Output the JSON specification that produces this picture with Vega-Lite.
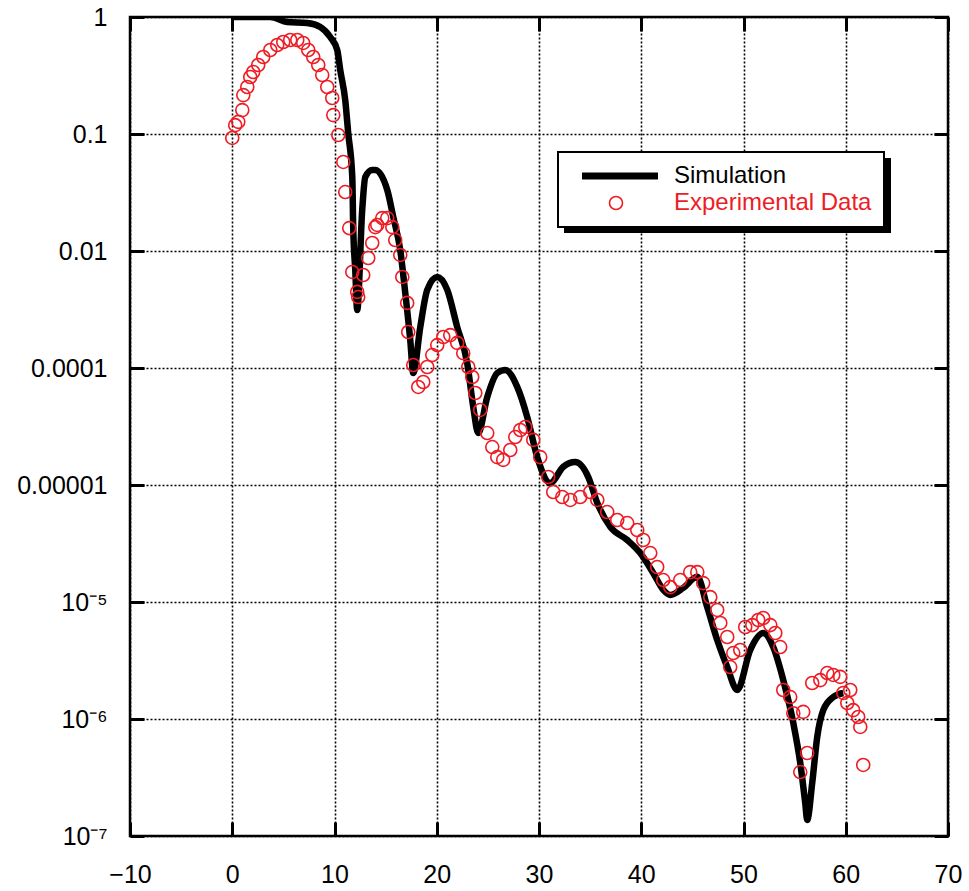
{
  "$schema": "https://vega.github.io/schema/vega-lite/v6.json",
  "width": 818,
  "height": 819,
  "autosize": "none",
  "padding": {"left": 130, "top": 17, "right": 21, "bottom": 55},
  "background": "white",
  "datasets": {
    "sim": [
      {"x": 0, "y": 1}, {"x": 3.72, "y": 1}, {"x": 5.38, "y": 0.906}, {"x": 7.33, "y": 0.889},
      {"x": 8.61, "y": 0.822}, {"x": 9.58, "y": 0.675}, {"x": 10.27, "y": 0.522}, {"x": 10.56, "y": 0.352},
      {"x": 11.05, "y": 0.195}, {"x": 11.34, "y": 0.102}, {"x": 11.74, "y": 0.0429}, {"x": 11.83, "y": 0.016},
      {"x": 12.03, "y": 0.00689}, {"x": 12.22, "y": 0.00313}, {"x": 12.71, "y": 0.0224}, {"x": 13.01, "y": 0.0429},
      {"x": 13.69, "y": 0.0492}, {"x": 13.99, "y": 0.0492}, {"x": 15.16, "y": 0.0332}, {"x": 15.75, "y": 0.0195},
      {"x": 16.43, "y": 0.0102}, {"x": 16.92, "y": 0.00438}, {"x": 17.41, "y": 0.00173}, {"x": 17.7, "y": 0.000906},
      {"x": 18.39, "y": 0.00224}, {"x": 19.07, "y": 0.00465}, {"x": 20.05, "y": 0.006}, {"x": 21.03, "y": 0.00465},
      {"x": 22.0, "y": 0.00224}, {"x": 22.98, "y": 0.0011}, {"x": 23.57, "y": 0.000465}, {"x": 24.06, "y": 0.000278},
      {"x": 24.94, "y": 0.000565}, {"x": 25.92, "y": 0.000906}, {"x": 26.7, "y": 0.000962}, {"x": 27.87, "y": 0.000689},
      {"x": 28.85, "y": 0.000381}, {"x": 29.83, "y": 0.000173}, {"x": 31.1, "y": 0.000104}, {"x": 32.37, "y": 0.000143},
      {"x": 33.55, "y": 0.000157}, {"x": 34.82, "y": 0.000117}, {"x": 35.7, "y": 0.0000702}, {"x": 36.97, "y": 0.0000438},
      {"x": 38.63, "y": 0.0000339}, {"x": 39.9, "y": 0.0000262}, {"x": 41.17, "y": 0.0000177}, {"x": 42.15, "y": 0.0000127},
      {"x": 42.84, "y": 0.0000115}, {"x": 44.11, "y": 0.0000132}, {"x": 45.48, "y": 0.0000164}, {"x": 46.45, "y": 0.00000906},
      {"x": 47.43, "y": 0.00000473}, {"x": 48.41, "y": 0.00000278}, {"x": 49.39, "y": 0.00000177}, {"x": 50.66, "y": 0.00000389},
      {"x": 51.93, "y": 0.00000543}, {"x": 52.91, "y": 0.00000412}, {"x": 53.89, "y": 0.00000215}, {"x": 54.87, "y": 9.25e-7},
      {"x": 55.55, "y": 4.21e-7}, {"x": 56.04, "y": 1.91e-7}, {"x": 56.23, "y": 1.37e-7}, {"x": 56.72, "y": 2.84e-7},
      {"x": 57.21, "y": 7.02e-7}, {"x": 57.8, "y": 0.00000119}, {"x": 58.78, "y": 0.00000154}, {"x": 59.76, "y": 0.00000167}
    ],
    "exp": [
      {"x": 0.0, "y": 0.0925}, {"x": 0.29, "y": 0.119}, {"x": 0.59, "y": 0.127}, {"x": 0.98, "y": 0.16},
      {"x": 1.08, "y": 0.215}, {"x": 1.47, "y": 0.252}, {"x": 1.76, "y": 0.307}, {"x": 2.05, "y": 0.339},
      {"x": 2.54, "y": 0.389}, {"x": 3.03, "y": 0.455}, {"x": 3.72, "y": 0.522}, {"x": 4.4, "y": 0.576},
      {"x": 4.99, "y": 0.611}, {"x": 5.67, "y": 0.636}, {"x": 6.36, "y": 0.636}, {"x": 6.94, "y": 0.6},
      {"x": 7.43, "y": 0.522}, {"x": 7.92, "y": 0.455}, {"x": 8.41, "y": 0.389}, {"x": 8.8, "y": 0.319},
      {"x": 9.29, "y": 0.252}, {"x": 9.78, "y": 0.203}, {"x": 9.88, "y": 0.145}, {"x": 10.37, "y": 0.098},
      {"x": 10.86, "y": 0.0577}, {"x": 11.05, "y": 0.0319}, {"x": 11.44, "y": 0.0157}, {"x": 11.74, "y": 0.00662},
      {"x": 12.22, "y": 0.00447}, {"x": 12.32, "y": 0.00404}, {"x": 12.81, "y": 0.00624}, {"x": 13.3, "y": 0.00871},
      {"x": 13.69, "y": 0.0117}, {"x": 13.99, "y": 0.016}, {"x": 14.18, "y": 0.0167}, {"x": 14.67, "y": 0.0191},
      {"x": 15.16, "y": 0.0191}, {"x": 15.65, "y": 0.016}, {"x": 15.94, "y": 0.0124}, {"x": 16.43, "y": 0.00925},
      {"x": 16.63, "y": 0.006}, {"x": 17.11, "y": 0.0036}, {"x": 17.21, "y": 0.00203}, {"x": 17.7, "y": 0.00106},
      {"x": 18.19, "y": 0.000689}, {"x": 18.68, "y": 0.000759}, {"x": 19.07, "y": 0.00102}, {"x": 19.56, "y": 0.00129},
      {"x": 20.05, "y": 0.00157}, {"x": 20.64, "y": 0.00184}, {"x": 21.32, "y": 0.00191}, {"x": 22.0, "y": 0.00164},
      {"x": 22.59, "y": 0.00134}, {"x": 23.08, "y": 0.00102}, {"x": 23.47, "y": 0.000838}, {"x": 23.77, "y": 0.000611},
      {"x": 24.25, "y": 0.000438}, {"x": 24.94, "y": 0.000278}, {"x": 25.43, "y": 0.000211}, {"x": 25.92, "y": 0.000173},
      {"x": 26.5, "y": 0.000164}, {"x": 27.19, "y": 0.000199}, {"x": 27.68, "y": 0.000257}, {"x": 28.17, "y": 0.000295},
      {"x": 28.66, "y": 0.000313}, {"x": 29.44, "y": 0.000243}, {"x": 30.12, "y": 0.000173}, {"x": 30.9, "y": 0.000117},
      {"x": 31.39, "y": 0.0000871}, {"x": 32.27, "y": 0.0000789}, {"x": 33.06, "y": 0.0000745}, {"x": 34.03, "y": 0.0000789},
      {"x": 35.01, "y": 0.0000871}, {"x": 35.7, "y": 0.0000745}, {"x": 36.67, "y": 0.0000587}, {"x": 37.65, "y": 0.0000502},
      {"x": 38.63, "y": 0.0000473}, {"x": 39.61, "y": 0.0000412}, {"x": 40.2, "y": 0.0000339}, {"x": 40.88, "y": 0.0000262},
      {"x": 41.56, "y": 0.0000199}, {"x": 42.15, "y": 0.0000154}, {"x": 42.84, "y": 0.0000134}, {"x": 43.81, "y": 0.0000154},
      {"x": 44.79, "y": 0.000018}, {"x": 45.48, "y": 0.000018}, {"x": 46.06, "y": 0.0000145}, {"x": 46.75, "y": 0.000011},
      {"x": 47.43, "y": 0.00000855}, {"x": 47.73, "y": 0.00000662}, {"x": 48.41, "y": 0.00000502}, {"x": 48.7, "y": 0.00000278},
      {"x": 49.0, "y": 0.00000366}, {"x": 49.68, "y": 0.00000389}, {"x": 50.17, "y": 0.00000611}, {"x": 50.86, "y": 0.00000635},
      {"x": 51.44, "y": 0.00000702}, {"x": 51.93, "y": 0.0000073}, {"x": 52.62, "y": 0.00000635}, {"x": 53.11, "y": 0.00000543},
      {"x": 53.59, "y": 0.00000412}, {"x": 53.89, "y": 0.00000177}, {"x": 54.57, "y": 0.00000154}, {"x": 54.87, "y": 0.00000112},
      {"x": 55.84, "y": 0.00000115}, {"x": 56.23, "y": 5.12e-7}, {"x": 55.55, "y": 3.52e-7}, {"x": 56.72, "y": 0.00000203},
      {"x": 57.51, "y": 0.00000215}, {"x": 58.19, "y": 0.00000247}, {"x": 58.78, "y": 0.00000238}, {"x": 59.46, "y": 0.00000229},
      {"x": 59.76, "y": 0.00000167}, {"x": 60.44, "y": 0.00000177}, {"x": 60.15, "y": 0.00000137}, {"x": 60.73, "y": 0.00000119},
      {"x": 61.22, "y": 0.00000104}, {"x": 61.42, "y": 8.55e-7}, {"x": 61.71, "y": 4.05e-7}
    ]
  },
  "layer": [
    {
      "data": {"name": "sim"},
      "mark": {"type": "line", "strokeWidth": 6.5, "strokeJoin": "round", "interpolate": "monotone", "clip": true},
      "encoding": {
        "x": {
          "field": "x", "type": "quantitative",
          "scale": {"domain": [-10, 70], "nice": false, "zero": false},
          "axis": {
            "orient": "bottom", "title": null, "values": [-10, 0, 10, 20, 30, 40, 50, 60, 70],
            "grid": true, "gridColor": "black", "gridDash": [2, 2], "gridWidth": 1.6, "gridOpacity": 1,
            "domain": false, "ticks": false,
            "labelPadding": 26, "labelFontSize": 25, "labelFont": "Liberation Sans", "labelColor": "black",
            "labelFlush": false, "labelOverlap": false
          }
        },
        "y": {
          "field": "y", "type": "quantitative",
          "scale": {"type": "log", "domain": [1e-7, 1], "nice": false},
          "axis": {
            "orient": "left", "title": null, "values": [1, 0.1, 0.01, 0.001, 0.0001, 0.00001, 0.000001, 0.0000001],
            "labelExpr": "['10⁻⁷','10⁻⁶','10⁻⁵','0.00001','0.0001','0.01','0.1','1'][round(log(datum.value)/LN10)+7]",
            "grid": true, "gridColor": "black", "gridDash": [2, 2], "gridWidth": 1.6, "gridOpacity": 1,
            "domain": false, "ticks": false,
            "labelPadding": 23, "labelFontSize": 25, "labelFont": "Liberation Sans", "labelColor": "black",
            "labelFlush": false, "labelOverlap": false, "labelBaseline": "middle"
          }
        },
        "color": {
          "datum": "Simulation",
          "scale": {"domain": ["Simulation", "Experimental Data"], "range": ["black", "#ee1c24"]},
          "legend": {
            "title": null, "orient": "none", "legendX": 428, "legendY": 135, "zindex": 3,
            "fillColor": "white", "strokeColor": "black",
            "padding": 12, "rowPadding": 1,
            "symbolSize": 5776, "symbolType": "stroke", "labelLimit": 400,
            "labelFontSize": 24, "labelFont": "Liberation Sans",
            "encode": {
              "legend": {"update": {"strokeWidth": {"value": 2}}},
              "symbols": {
                "update": {
                  "x": {"signal": "datum.value === 'Simulation' ? 50 : 46"},
                  "shape": {"signal": "datum.value === 'Simulation' ? 'stroke' : 'circle'"},
                  "size": {"signal": "datum.value === 'Simulation' ? 5776 : 169"},
                  "strokeWidth": {"signal": "datum.value === 'Simulation' ? 7 : 1.6"},
                  "stroke": {"signal": "datum.value === 'Simulation' ? 'black' : '#ee1c24'"},
                  "fill": {"value": "transparent"},
                  "opacity": {"value": 1}
                }
              },
              "labels": {
                "update": {
                  "x": {"value": 104},
                  "fill": {"signal": "datum.value === 'Simulation' ? 'black' : '#ee1c24'"}
                }
              }
            }
          }
        }
      }
    },
    {
      "data": {"name": "exp"},
      "mark": {"type": "point", "shape": "circle", "filled": false, "size": 169, "strokeWidth": 1.6, "opacity": 1},
      "encoding": {
        "x": {
          "field": "x", "type": "quantitative",
          "axis": {
            "orient": "top", "offset": -819, "title": null, "values": [-10, 0, 10, 20, 30, 40, 50, 60, 70],
            "grid": false, "domain": false, "labels": false, "zindex": 2,
            "ticks": true, "tickSize": 14, "tickWidth": 3, "tickColor": "black", "tickOpacity": 1
          }
        },
        "y": {
          "field": "y", "type": "quantitative",
          "axis": {
            "orient": "right", "offset": -818, "title": null, "values": [1, 0.1, 0.01, 0.001, 0.0001, 0.00001, 0.000001, 0.0000001],
            "grid": false, "domain": false, "labels": false, "zindex": 2,
            "ticks": true, "tickSize": 14, "tickWidth": 3, "tickColor": "black", "tickOpacity": 1
          }
        },
        "color": {"datum": "Experimental Data"}
      }
    },
    {
      "data": {"name": "exp"},
      "mark": {"type": "point", "opacity": 0},
      "encoding": {
        "x": {
          "field": "x", "type": "quantitative",
          "axis": {
            "orient": "bottom", "offset": -819, "title": null, "values": [-10, 0, 10, 20, 30, 40, 50, 60, 70],
            "grid": false, "domain": false, "labels": false, "zindex": 2,
            "ticks": true, "tickSize": 14, "tickWidth": 3, "tickColor": "black", "tickOpacity": 1
          }
        },
        "y": {
          "field": "y", "type": "quantitative",
          "axis": {
            "orient": "left", "offset": -818, "title": null, "values": [1, 0.1, 0.01, 0.001, 0.0001, 0.00001, 0.000001, 0.0000001],
            "grid": false, "domain": false, "labels": false, "zindex": 2,
            "ticks": true, "tickSize": 14, "tickWidth": 3, "tickColor": "black", "tickOpacity": 1
          }
        },
        "fill": {
          "field": "x", "type": "quantitative",
          "scale": {"range": ["black", "black"]},
          "legend": {
            "title": null, "orient": "none", "legendX": 434, "legendY": 141, "zindex": 1,
            "direction": "horizontal", "gradientLength": 327, "gradientThickness": 75,
            "gradientStrokeColor": "black", "gradientStrokeWidth": 0,
            "labelExpr": "''", "labelOpacity": 0, "labelFontSize": 1, "padding": 0
          }
        }
      }
    }
  ],
  "resolve": {"axis": {"x": "independent", "y": "independent"}},
  "config": {
    "view": {"stroke": "black", "strokeWidth": 2.5},
    "font": "Liberation Sans"
  }
}
